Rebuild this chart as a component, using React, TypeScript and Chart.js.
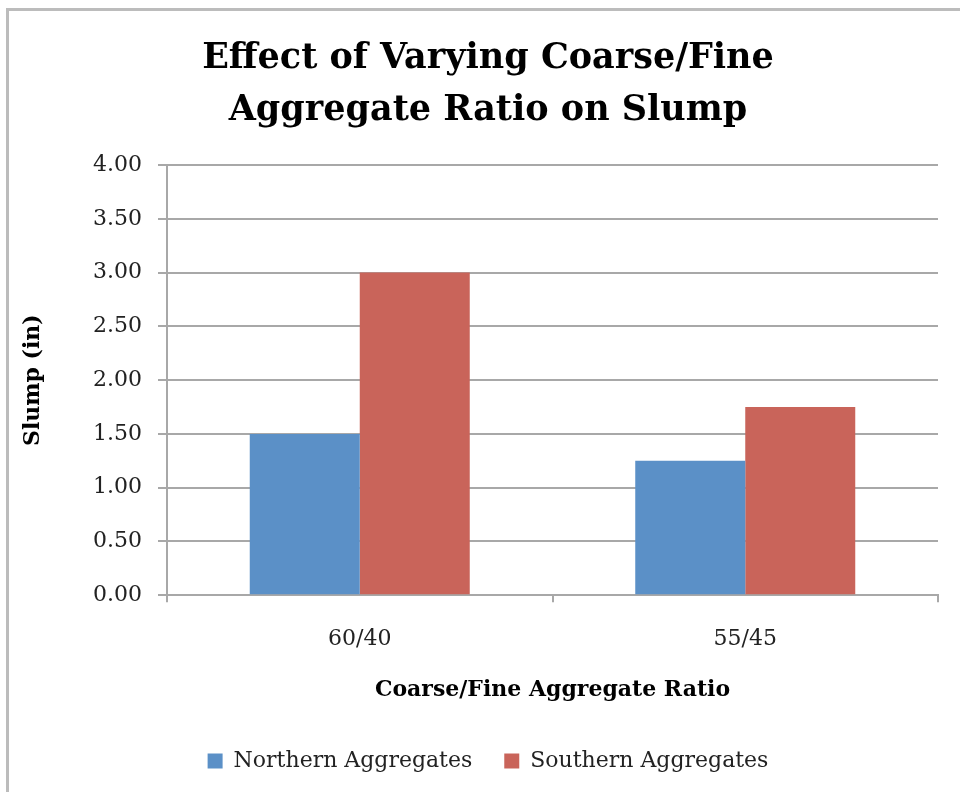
import React, { useEffect, useRef } from "react";
import { Chart, registerables } from "chart.js";

Chart.register(...registerables);

const categories = ["60/40", "55/45"];
const northern = [1.5, 1.25];
const southern = [3.0, 1.75];
const yTickLabels = ["0.00", "0.50", "1.00", "1.50", "2.00", "2.50", "3.00", "3.50", "4.00"];
const titleLines = ["Effect of Varying Coarse/Fine", "Aggregate Ratio on Slump"];
const seriesNames = ["Northern Aggregates", "Southern Aggregates"];

const FONT = "'DejaVu Serif', serif";
const GRID = "#a8a8a8";

export default function App() {
  const ref = useRef<HTMLCanvasElement | null>(null);

  useEffect(() => {
    if (!ref.current) return;
    const chart = new Chart(ref.current, {
      type: "bar",
      data: {
        labels: categories,
        datasets: [
          { label: seriesNames[0], data: northern, backgroundColor: "#5b90c7", borderWidth: 0 },
          { label: seriesNames[1], data: southern, backgroundColor: "#c9645a", borderWidth: 0 },
        ],
      },
      options: {
        animation: false,
        responsive: true,
        maintainAspectRatio: false,
        layout: { padding: { left: 16, right: 0, top: 33, bottom: 10 } },
        datasets: { bar: { categoryPercentage: 0.5707, barPercentage: 1 } },
        plugins: {
          title: {
            display: true,
            text: titleLines,
            color: "#000",
            font: { family: FONT, size: 35, weight: "bold", lineHeight: 1.486 },
            padding: { top: 0, bottom: 28 },
          },
          legend: {
            position: "bottom",
            labels: {
              color: "#222",
              font: { family: FONT, size: 22 },
              boxWidth: 15,
              boxHeight: 15,
              padding: 32,
            },
          },
          tooltip: { enabled: false },
        },
        scales: {
          x: {
            grid: {
              drawOnChartArea: false,
              drawTicks: true,
              tickLength: 7,
              offset: true,
              color: GRID,
              lineWidth: 2,
            },
            border: { color: GRID, width: 2 },
            ticks: { color: "#222", font: { family: FONT, size: 22 }, padding: 24 },
            title: {
              display: true,
              text: "Coarse/Fine Aggregate Ratio",
              color: "#000",
              font: { family: FONT, size: 22, weight: "bold" },
              padding: { top: 0, bottom: 15 },
            },
          },
          y: {
            min: 0,
            max: 4,
            ticks: {
              stepSize: 0.5,
              color: "#222",
              font: { family: FONT, size: 22 },
              padding: 16,
              callback: (_v: any, i: number) => yTickLabels[i],
            },
            grid: { color: GRID, lineWidth: 2, drawTicks: true, tickLength: 9 },
            border: { color: GRID, width: 2 },
            title: {
              display: true,
              text: "Slump (in)",
              color: "#000",
              font: { family: FONT, size: 22, weight: "bold" },
              padding: { top: 4, bottom: 0 },
            },
            afterFit: (s: any) => {
              s.width = 151;
            },
          },
          yRight: {
            position: "right",
            display: true,
            grid: { display: false },
            border: { display: false },
            ticks: { display: false },
            afterFit: (s: any) => {
              s.width = 22;
            },
          },
        },
      } as any,
    });
    return () => chart.destroy();
  }, []);

  return (
    <div
      style={{
        position: "absolute",
        left: 0,
        top: 0,
        width: 960,
        height: 792,
        overflow: "hidden",
        background: "#fff",
      }}
    >
      <div
        style={{
          position: "absolute",
          left: 6,
          top: 8,
          width: 1100,
          height: 1100,
          border: "3px solid #bcbcbc",
        }}
      />
      <div style={{ position: "absolute", left: 0, top: 0, width: 960, height: 792 }}>
        <canvas ref={ref} />
      </div>
    </div>
  );
}
